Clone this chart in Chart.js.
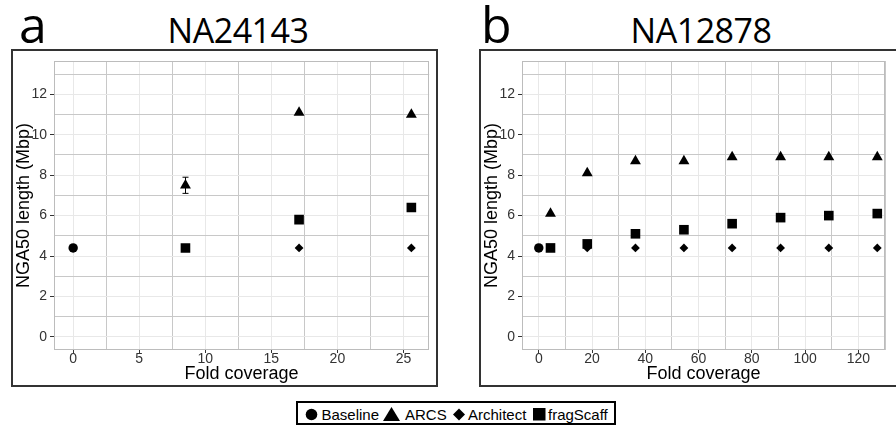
<!DOCTYPE html>
<html><head><meta charset="utf-8">
<script src="https://cdn.jsdelivr.net/npm/chart.js@4.4.1/dist/chart.umd.min.js"></script>
<style>
html,body{margin:0;padding:0;background:#fff;width:896px;height:430px;overflow:hidden;}
body{position:relative;}
.box{position:absolute;border:2px solid #333;box-sizing:border-box;background:#fff;overflow:hidden;}
.box canvas{position:absolute;left:0;top:0;}
.letter{position:absolute;font-family:"Open Sans";font-size:50px;line-height:50px;color:#000;}
.ttl{position:absolute;font-family:"Open Sans";font-size:34px;line-height:34px;letter-spacing:-0.5px;text-align:center;width:240px;color:#000;white-space:nowrap;}
#legend{position:absolute;left:296px;top:401px;width:320px;height:24px;border:2px solid #000;box-sizing:border-box;background:#fff;}
#legend svg{position:absolute;left:0;top:0;}
.li{position:absolute;top:3px;font-family:"Liberation Sans";font-size:15px;line-height:17px;color:#000;white-space:nowrap;}
</style>
</head><body>
<div class="letter" style="left:19px;top:-1px;">a</div>
<div class="ttl" style="left:118px;top:13px;">NA24143</div>
<div class="letter" style="left:481px;top:-1px;">b</div>
<div class="ttl" style="left:581px;top:13px;">NA12878</div>

<div class="box" style="left:11px;top:49px;width:427px;height:338px;"><canvas id="cA" width="423" height="334"></canvas></div>
<div class="box" style="left:479px;top:49px;width:427px;height:338px;"><canvas id="cB" width="423" height="334"></canvas></div>

<div id="legend">
<svg width="316" height="20" viewBox="0 0 316 20">
<circle cx="13.5" cy="11.5" r="5.8" fill="#000"/>
<polygon points="85,18 102,18 93.5,4" fill="#000"/>
<polygon points="161,5.5 167,11.5 161,17.5 155,11.5" fill="#000"/>
<rect x="235" y="5" width="12.5" height="12.5" fill="#000"/>
</svg>
<span class="li" style="left:23.5px;">Baseline</span>
<span class="li" style="left:107px;">ARCS</span>
<span class="li" style="left:170px;">Architect</span>
<span class="li" style="left:250px;">fragScaff</span>
</div>

<script>
// ---- tick labels / grid breaks ----
const yTickLabels = [0, 2, 4, 6, 8, 10, 12];
const yMinorBreaks = [1, 3, 5, 7, 9, 11, 13];
const xTickLabelsA = [0, 5, 10, 15, 20, 25];
const xMinorBreaksA = [2.5, 7.5, 12.5, 17.5, 22.5];
const xTickLabelsB = [0, 20, 40, 60, 80, 100, 120];
const xMinorBreaksB = [10, 30, 50, 70, 90, 110, 130];

// ---- panel a: NA24143 ----
const baselineCoverage = [0];
const baselineA = [4.4];
const coverageA = [8.5, 17.1, 25.6];
const arcsA = [7.5, 11.1, 11.0];
const arcsErrA = [0.4, 0, 0];
const architectA = [null, 4.4, 4.4];
const fragScaffA = [4.4, 5.8, 6.4];

// ---- panel b: NA12878 ----
const baselineB = [4.4];
const coverageB = [4.4, 18.2, 36.3, 54.5, 72.6, 90.8, 108.9, 127.1];
const arcsB = [6.1, 8.1, 8.7, 8.7, 8.9, 8.9, 8.9, 8.9];
const architectB = [null, 4.4, 4.4, 4.4, 4.4, 4.4, 4.4, 4.4];
const fragScaffB = [4.4, 4.6, 5.1, 5.3, 5.6, 5.9, 6.0, 6.1];

const LIGHT = '#e8e8e8', DARK = '#c8c8c8', FONT = 'Liberation Sans';

function pts(xs, ys) { return xs.map((x, i) => ({x: x, y: ys[i]})).filter(p => p.y !== null); }
function ds(label, data, style, r) {
  return {label, data, pointStyle: style, pointRadius: r, pointHoverRadius: r,
    backgroundColor: '#000', borderColor: '#000', borderWidth: 0, showLine: false};
}
function scaleOpts(min, max, labels, minor, title, isY, fit) {
  const all = labels.concat(minor).sort((a, b) => a - b);
  return {
    type: 'linear', position: isY ? 'left' : 'bottom', min: min, max: max,
    afterBuildTicks: s => { s.ticks = all.map(v => ({value: v})); },
    afterFit: s => { if (isY) s.width = fit; else s.height = fit; },
    ticks: {autoSkip: false, maxRotation: 0, minRotation: 0, padding: isY ? 3 : -1, color: '#333',
      font: {family: FONT, size: 14, lineHeight: 1},
      callback: v => labels.includes(v) ? String(v) : ''},
    grid: {color: c => labels.includes(c.tick.value) ? LIGHT : DARK, lineWidth: 1,
      tickLength: isY ? 4 : 3, tickWidth: 1,
      tickColor: c => labels.includes(c.tick.value) ? '#333' : 'rgba(0,0,0,0)'},
    border: {display: false},
    title: {display: true, text: title, color: '#000', font: {family: FONT, size: 18},
      padding: {top: 0, bottom: 0}}
  };
}
const panelBorder = {
  id: 'panelBorder',
  beforeDatasetsDraw(chart) {
    const a = chart.chartArea, ctx = chart.ctx;
    ctx.save(); ctx.strokeStyle = '#bcbcbc'; ctx.lineWidth = 1;
    ctx.strokeRect(Math.round(a.left) + 0.5, Math.round(a.top) + 0.5,
      Math.round(a.right - a.left) - 1, Math.round(a.bottom - a.top) - 1);
    ctx.restore();
  }
};
function errPlugin(xs, ys, errs) {
  return {
    id: 'errorBars',
    beforeDatasetsDraw(chart) {
      const xS = chart.scales.x, yS = chart.scales.y, ctx = chart.ctx;
      ctx.save(); ctx.strokeStyle = '#000'; ctx.lineWidth = 1;
      xs.forEach((x, i) => {
        const e = errs[i]; if (!e) return;
        const px = Math.round(xS.getPixelForValue(x)) + 0.5;
        const y1 = yS.getPixelForValue(ys[i] - e), y2 = yS.getPixelForValue(ys[i] + e);
        ctx.beginPath();
        ctx.moveTo(px, y1); ctx.lineTo(px, y2);
        ctx.moveTo(px - 3, y1); ctx.lineTo(px + 3, y1);
        ctx.moveTo(px - 3, y2); ctx.lineTo(px + 3, y2);
        ctx.stroke();
      });
      ctx.restore();
    }
  };
}
function makeChart(id, xMin, xMax, xLabels, xMinor, padRight, sets, extra) {
  return new Chart(document.getElementById(id), {
    type: 'scatter',
    data: {datasets: sets},
    options: {
      responsive: false, animation: false, events: [],
      layout: {padding: {top: 4, right: padRight, left: 0, bottom: 0}},
      plugins: {legend: {display: false}, tooltip: {enabled: false}},
      scales: {
        x: scaleOpts(xMin, xMax, xLabels, xMinor, 'Fold coverage', false, 35),
        y: scaleOpts(-0.65, 13.65, yTickLabels, yMinorBreaks, 'NGA50 length (Mbp)', true, 41)
      }
    },
    plugins: [panelBorder].concat(extra)
  });
}
makeChart('cA', -1.45, 26.95, xTickLabelsA, xMinorBreaksA, 3, [
  ds('Baseline', pts(baselineCoverage, baselineA), 'circle', 4.7),
  ds('ARCS', pts(coverageA, arcsA), 'triangle', 6.3),
  ds('Architect', pts(coverageA, architectA), 'rectRot', 4.4),
  ds('fragScaff', pts(coverageA, fragScaffA), 'rect', 6.8)
], [errPlugin(coverageA, arcsA, arcsErrA)]);
makeChart('cB', -6.3, 130, xTickLabelsB, xMinorBreaksB, 19, [
  ds('Baseline', pts(baselineCoverage, baselineB), 'circle', 4.7),
  ds('ARCS', pts(coverageB, arcsB), 'triangle', 6.3),
  ds('Architect', pts(coverageB, architectB), 'rectRot', 4.4),
  ds('fragScaff', pts(coverageB, fragScaffB), 'rect', 6.8)
], []);
</script>
</body></html>
